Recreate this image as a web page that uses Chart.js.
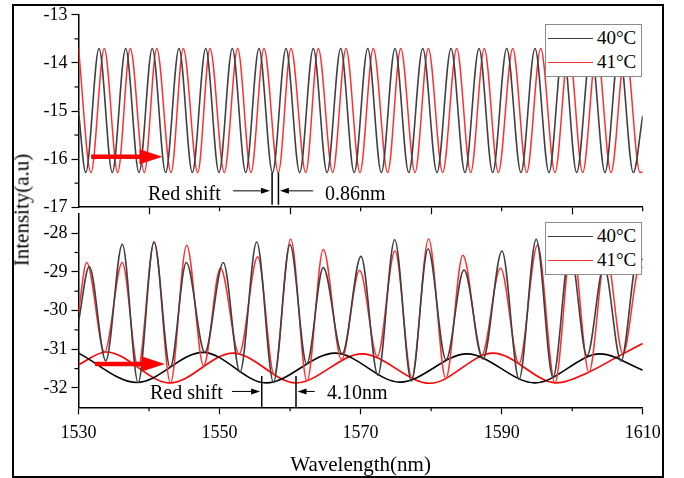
<!DOCTYPE html>
<html>
<head>
<meta charset="utf-8">
<script src="https://cdn.jsdelivr.net/npm/chart.js@4.4.0/dist/chart.umd.min.js"></script>
<style>
  body { margin: 0; background: #fff; }
  #wrap { position: relative; width: 684px; height: 478px; font-family: "Liberation Serif", "Times New Roman", serif; color: #000; }
  #frame { position: absolute; left: 12px; top: 4px; width: 652px; height: 474px; box-sizing: border-box; border: 2px solid #000; }
  canvas { position: absolute; left: 0; }
  .legend { position: absolute; left: 545px; width: 97px; height: 53px; box-sizing: border-box; border: 1px solid #8c8c8c; background: #fff; font-size: 19px; }
  .legend .row { position: absolute; left: 51px; height: 24px; line-height: 24px; white-space: nowrap; }
  .legend i { position: absolute; left: -49px; top: 12px; width: 45px; border-top: 1.5px solid; }
  .note { position: absolute; font-size: 20px; height: 24px; line-height: 24px; white-space: nowrap; }
  #ytitle { position: absolute; left: 22px; top: 210px; transform: translate(-50%, -50%) rotate(-90deg); font-size: 21px; white-space: nowrap; }
</style>
</head>
<body>
<div id="wrap">
  <div id="frame"></div>
  <canvas id="topChart" width="684" height="222" style="top:0"></canvas>
  <canvas id="botChart" width="684" height="279" style="top:199px"></canvas>
  <div id="ytitle">Intensity(a.u)</div>
  <div class="note" style="left:148px; top:181px">Red shift</div>
  <div class="note" style="left:325px; top:181px">0.86nm</div>
  <div class="note" style="left:150px; top:380px">Red shift</div>
  <div class="note" style="left:327px; top:380px">4.10nm</div>
  <div class="legend" style="top:24px">
    <div class="row" style="top:1px"><i style="border-color:#404040"></i>40°C</div>
    <div class="row" style="top:25px"><i style="border-color:#ff3030"></i>41°C</div>
  </div>
  <div class="legend" style="top:222px">
    <div class="row" style="top:1px"><i style="border-color:#404040"></i>40°C</div>
    <div class="row" style="top:25px"><i style="border-color:#ff3030"></i>41°C</div>
  </div>
</div>
<script>
// axis ticks
const xTicks = [1530, 1550, 1570, 1590, 1610];
const xMinor = [1540, 1560, 1580, 1600];
const xTicksTop = [1540, 1560, 1580, 1600];
const xMinorTop = [1550, 1570, 1590, 1610];
const yTicksTop = [-17, -16, -15, -14, -13];
const yMinorTop = [-16.5, -15.5, -14.5, -13.5];
const yTicksBot = [-32, -31, -30, -29, -28];
const yMinorBot = [-31.5, -30.5, -29.5, -28.5];

// top panel, extrema (nm, a.u)
const topX40 = [1530.00, 1531.02, 1532.91, 1534.79, 1536.69, 1538.58, 1540.46, 1542.36, 1544.25, 1546.14,
  1548.04, 1549.92, 1551.81, 1553.71, 1555.59, 1557.51, 1559.42, 1561.36, 1563.29, 1565.24,
  1567.18, 1569.09, 1571.01, 1572.94, 1574.88, 1576.83, 1578.81, 1580.83, 1582.82, 1584.80,
  1586.79, 1588.73, 1590.72, 1592.74, 1594.73, 1596.71, 1598.70, 1600.64, 1602.67, 1604.65,
  1606.67, 1608.67, 1610.00];
const topY40 = [-15.00, -16.28, -13.70, -16.28, -13.70, -16.28, -13.70, -16.28, -13.70, -16.28,
  -13.70, -16.28, -13.70, -16.28, -13.70, -16.28, -13.70, -16.28, -13.70, -16.28,
  -13.70, -16.28, -13.70, -16.28, -13.70, -16.28, -13.70, -16.28, -13.70, -16.28,
  -13.70, -16.28, -13.70, -16.28, -13.70, -16.28, -13.70, -16.28, -13.70, -16.28,
  -13.70, -16.28, -15.10];
const topX41 = [1530.00, 1531.77, 1533.66, 1535.56, 1537.34, 1539.33, 1541.09, 1543.12, 1544.86, 1546.90,
  1548.65, 1550.67, 1552.57, 1554.46, 1556.30, 1558.33, 1560.13, 1562.22, 1564.00, 1566.04,
  1567.93, 1569.91, 1571.80, 1573.84, 1575.69, 1577.71, 1579.60, 1581.64, 1583.63, 1585.61,
  1587.54, 1589.52, 1591.57, 1593.55, 1595.54, 1597.56, 1599.52, 1601.49, 1603.49, 1605.51,
  1607.56, 1609.62, 1610.00];
const topY41 = [-13.70, -16.28, -13.70, -16.28, -13.70, -16.28, -13.70, -16.28, -13.70, -16.28,
  -13.70, -16.28, -13.70, -16.28, -13.70, -16.28, -13.70, -16.28, -13.70, -16.28,
  -13.70, -16.28, -13.70, -16.28, -13.70, -16.28, -13.70, -16.28, -13.70, -16.28,
  -13.70, -16.28, -13.70, -16.28, -13.70, -16.28, -13.70, -16.28, -13.70, -16.28,
  -13.70, -16.28, -16.26];

// bottom panel
const botX40 = [1530.00, 1531.53, 1533.87, 1536.21, 1538.46, 1540.71, 1543.00, 1545.29, 1547.91, 1550.53,
  1552.90, 1555.27, 1557.64, 1559.99, 1562.36, 1564.71, 1567.39, 1570.06, 1572.45, 1574.84,
  1577.20, 1579.56, 1582.11, 1584.66, 1587.36, 1590.05, 1592.47, 1594.90, 1597.28, 1599.69,
  1602.10, 1604.51, 1606.92, 1609.33, 1610.00];
const botY40 = [-30.30, -28.86, -31.30, -28.29, -31.86, -28.23, -31.47, -28.76, -31.08, -28.76,
  -31.59, -28.23, -31.85, -28.30, -31.38, -28.89, -31.12, -28.60, -31.67, -28.17,
  -31.82, -28.41, -31.27, -28.95, -31.25, -28.46, -31.77, -28.16, -31.73, -28.45,
  -31.17, -28.85, -31.30, -28.60, -28.69];
const botX41 = [1530.00, 1531.16, 1533.69, 1536.20, 1538.46, 1540.73, 1543.04, 1545.34, 1547.74, 1550.13,
  1552.77, 1555.41, 1557.75, 1560.09, 1562.40, 1564.71, 1567.29, 1569.86, 1572.37, 1574.88,
  1577.26, 1579.64, 1582.08, 1584.50, 1587.17, 1589.84, 1592.46, 1595.08, 1597.56, 1599.97,
  1602.38, 1604.79, 1607.20, 1609.62, 1610.00];
const botY41 = [-30.04, -28.76, -31.07, -28.76, -31.47, -28.23, -31.87, -28.31, -31.43, -28.90,
  -31.12, -28.61, -31.66, -28.16, -31.82, -28.42, -31.27, -28.96, -31.19, -28.46,
  -31.74, -28.15, -31.76, -28.57, -31.16, -28.90, -31.37, -28.31, -31.87, -28.20,
  -31.59, -28.50, -31.12, -28.85, -28.90];
const envX40 = [1530.00, 1538.29, 1547.65, 1556.59, 1566.37, 1575.59, 1585.09, 1594.73, 1603.95, 1610.00];
const envY40 = [-31.10, -31.86, -31.08, -31.87, -31.10, -31.85, -31.12, -31.87, -31.12, -31.54];
const envX41 = [1530.00, 1533.90, 1542.97, 1551.91, 1560.84, 1570.20, 1579.84, 1588.78, 1597.85, 1602.25, 1606.07, 1610.00];
const envY41 = [-31.40, -31.07, -31.87, -31.10, -31.87, -31.12, -31.88, -31.10, -31.87, -31.60, -31.23, -30.85];

// annotations (data units)
const bigArrowTop = { x1: 1531.8, x2: 1541.9, y: -15.95 };
const bigArrowBot = { x1: 1532.35, x2: 1542.25, y: -31.38 };
const shiftTop = [1557.45, 1558.35];
const shiftBot = [1555.98, 1560.84];

const pts = (xs, ys) => xs.map((x, i) => ({ x: x, y: ys[i] }));
const serif = 'Liberation Serif';

function line(data, color, width) {
  return { data: data, borderColor: color, borderWidth: width, pointRadius: 0, fill: false,
    cubicInterpolationMode: 'monotone' };
}

// minor ticks, red arrows and the shift markers
const decor = {
  id: 'decor',
  afterDatasetsDraw(chart, args, o) {
    const ctx = chart.ctx, xs = chart.scales.x, ys = chart.scales.y;
    const X = v => xs.getPixelForValue(v), Y = v => ys.getPixelForValue(v);
    ctx.save();
    ctx.strokeStyle = '#000';
    ctx.lineWidth = 1.2;
    o.xMinor.forEach(v => {
      ctx.beginPath(); ctx.moveTo(X(v), xs.top); ctx.lineTo(X(v), xs.top + 4); ctx.stroke();
    });
    o.yMinor.forEach(v => {
      ctx.beginPath(); ctx.moveTo(ys.right, Y(v)); ctx.lineTo(ys.right - 4, Y(v)); ctx.stroke();
    });
    // shift markers
    ctx.lineWidth = 1.5;
    o.marks.forEach(x => {
      ctx.beginPath(); ctx.moveTo(X(x), Y(o.markY[0])); ctx.lineTo(X(x), Y(o.markY[1])); ctx.stroke();
    });
    // thin arrows
    ctx.fillStyle = '#000';
    ctx.lineWidth = 1;
    o.thin.forEach(a => {
      const x1 = X(a[0]), x2 = X(a[1]), y = Y(a[2]), d = x2 > x1 ? 1 : -1;
      ctx.beginPath(); ctx.moveTo(x1, y); ctx.lineTo(x2 - d * 8, y); ctx.stroke();
      ctx.beginPath(); ctx.moveTo(x2, y); ctx.lineTo(x2 - d * 9, y - 3); ctx.lineTo(x2 - d * 9, y + 3);
      ctx.closePath(); ctx.fill();
    });
    // thick red arrow
    const b = o.big, bx1 = X(b.x1), bx2 = X(b.x2), by = Y(b.y);
    ctx.strokeStyle = '#ff0000';
    ctx.fillStyle = '#ff0000';
    ctx.lineWidth = 4.5;
    ctx.beginPath(); ctx.moveTo(bx1, by); ctx.lineTo(bx2 - 20, by); ctx.stroke();
    ctx.beginPath(); ctx.moveTo(bx2, by); ctx.lineTo(bx2 - 23, by - 7.5); ctx.lineTo(bx2 - 23, by + 7.5);
    ctx.closePath(); ctx.fill();
    ctx.restore();
  }
};

function yAxis(min, max, ticks) {
  return {
    min: min, max: max,
    afterBuildTicks: s => { s.ticks = ticks.map(v => ({ value: v })); },
    afterFit: s => { s.width = 78.5; },
    ticks: { color: '#000', padding: 4, font: { family: serif, size: 18 }, callback: v => String(v) },
    grid: { drawOnChartArea: false, tickLength: 7, tickColor: '#000', tickWidth: 1.2 },
    border: { color: '#000', width: 1.5 }
  };
}

new Chart(document.getElementById('topChart'), {
  type: 'line',
  data: { datasets: [
    line(pts(topX40, topY40), '#404040', 1.6),
    line(pts(topX41, topY41), '#ff3030', 1.5)
  ] },
  options: {
    responsive: false, animation: false, events: [],
    layout: { padding: { top: 14.7, right: 41.3, left: 0, bottom: 0 } },
    plugins: {
      legend: { display: false }, tooltip: { enabled: false },
      decor: { xMinor: xMinorTop, yMinor: yMinorTop, marks: shiftTop, markY: [-16.28, -16.95],
        thin: [[1551.9, 1557.15, -16.66], [1563.25, 1558.55, -16.66]], big: bigArrowTop }
    },
    scales: {
      x: {
        type: 'linear', min: 1530, max: 1610,
        afterBuildTicks: s => { s.ticks = xTicksTop.map(v => ({ value: v })); },
        afterFit: s => { s.height = 12; },
        ticks: { display: false },
        grid: { drawOnChartArea: false, tickLength: 7, tickColor: '#000', tickWidth: 1.2 },
        border: { color: '#000', width: 1.5 }
      },
      y: yAxis(-17, -13, yTicksTop)
    }
  },
  plugins: [decor]
});

new Chart(document.getElementById('botChart'), {
  type: 'line',
  data: { datasets: [
    line(pts(botX40, botY40), '#404040', 1.6),
    line(pts(botX41, botY41), '#ff3030', 1.5),
    line(pts(envX40, envY40), '#000000', 1.6),
    line(pts(envX41, envY41), '#ff0000', 1.6)
  ] },
  options: {
    responsive: false, animation: false, events: [],
    layout: { padding: { top: 11, right: 41.3, left: 0, bottom: 0 } },
    plugins: {
      legend: { display: false }, tooltip: { enabled: false },
      decor: { xMinor: xMinor, yMinor: yMinorBot, marks: shiftBot, markY: [-31.69, -32.49],
        thin: [[1551.75, 1555.75, -32.09], [1563.5, 1561.05, -32.09]], big: bigArrowBot }
    },
    scales: {
      x: {
        type: 'linear', min: 1530, max: 1610,
        afterBuildTicks: s => { s.ticks = xTicks.map(v => ({ value: v })); },
        afterFit: s => { s.height = 70.7; },
        ticks: { color: '#000', padding: 8, maxRotation: 0, font: { family: serif, size: 18 }, callback: v => String(v) },
        grid: { drawOnChartArea: false, tickLength: 7, tickColor: '#000', tickWidth: 1.2 },
        border: { color: '#000', width: 1.5 },
        title: { display: true, text: 'Wavelength(nm)', color: '#000', padding: { top: 0, bottom: 0 },
          font: { family: serif, size: 21 } }
      },
      y: yAxis(-32.5, -27.5, yTicksBot)
    }
  },
  plugins: [decor]
});
</script>
</body>
</html>
